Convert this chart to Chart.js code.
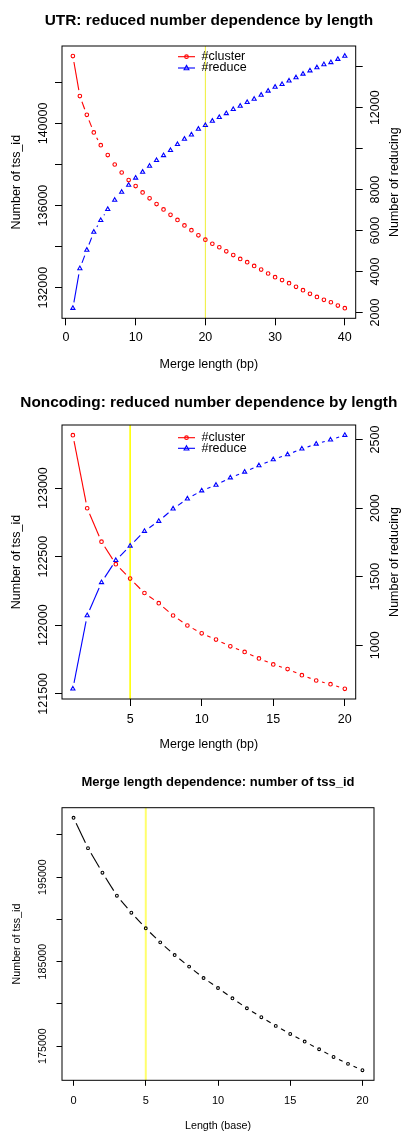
<!DOCTYPE html>
<html>
<head>
<meta charset="utf-8">
<script src="https://cdn.jsdelivr.net/npm/chart.js@4.4.0/dist/chart.umd.min.js"></script>
<style>
  html, body { margin: 0; padding: 0; background: #fff; }
  body { width: 403px; height: 1131px; position: relative; overflow: hidden; }
  canvas { position: absolute; left: 0; }
</style>
</head>
<body>
<canvas id="utrChart" width="403" height="378" style="top:0px"></canvas>
<canvas id="ncChart" width="403" height="378" style="top:378px"></canvas>
<canvas id="mergeChart" width="403" height="375" style="top:756px"></canvas>
<script>
// --- UTR panel ---
const utrLength = [1, 2, 3, 4, 5, 6, 7, 8, 9, 10, 11, 12, 13, 14, 15, 16, 17, 18, 19, 20,
  21, 22, 23, 24, 25, 26, 27, 28, 29, 30, 31, 32, 33, 34, 35, 36, 37, 38, 39, 40];
const utrCluster = [143280, 141330, 140420, 139560, 138940, 138460, 138000, 137610, 137240, 136950,
  136640, 136350, 136070, 135810, 135550, 135300, 135030, 134800, 134550, 134340,
  134140, 133970, 133770, 133590, 133400, 133240, 133060, 132880, 132690, 132510,
  132370, 132220, 132040, 131880, 131700, 131550, 131410, 131290, 131130, 131000];
const utrReduce = [2210, 4150, 5050, 5930, 6500, 7040, 7490, 7880, 8220, 8570,
  8860, 9150, 9430, 9670, 9920, 10210, 10470, 10680, 10960, 11140,
  11350, 11530, 11720, 11920, 12080, 12260, 12420, 12620, 12820, 13010,
  13140, 13310, 13470, 13650, 13810, 13960, 14110, 14210, 14370, 14520];
const utrXTicks = [0, 10, 20, 30, 40];
const utrLeftTicks = [132000, 134000, 136000, 138000, 140000, 142000];
const utrLeftLabels = [132000, 136000, 140000];
const utrRightTicks = [2000, 4000, 6000, 8000, 10000, 12000, 14000];
const utrRightLabels = [2000, 4000, 6000, 8000, 12000];
const utrCutoff = 20;

// --- Noncoding panel ---
const ncLength = [1, 2, 3, 4, 5, 6, 7, 8, 9, 10, 11, 12, 13, 14, 15, 16, 17, 18, 19, 20];
const ncCluster = [123386, 122853, 122609, 122445, 122340, 122235, 122161, 122071, 121998, 121941,
  121895, 121846, 121805, 121758, 121714, 121680, 121636, 121597, 121570, 121536];
const ncReduce = [682, 1217, 1458, 1619, 1724, 1832, 1905, 1995, 2068, 2127,
  2168, 2222, 2264, 2310, 2354, 2390, 2432, 2468, 2498, 2532];
const ncXTicks = [5, 10, 15, 20];
const ncLeftTicks = [121500, 122000, 122500, 123000];
const ncRightTicks = [1000, 1500, 2000, 2500];
const ncCutoff = 5;

// --- Merge length panel ---
const mergeLength = [0, 1, 2, 3, 4, 5, 6, 7, 8, 9, 10, 11, 12, 13, 14, 15, 16, 17, 18, 19, 20];
const mergeCount = [202020, 198430, 195520, 192800, 190790, 188940, 187280, 185780, 184410, 183060,
  181880, 180660, 179480, 178420, 177390, 176440, 175540, 174630, 173720, 172900, 172150];
const mergeXTicks = [0, 5, 10, 15, 20];
const mergeYTicks = [175000, 180000, 185000, 190000, 195000, 200000];
const mergeYLabels = [175000, 185000, 195000];
const mergeCutoff = 5;

const FONT = "'Liberation Sans', Arial, sans-serif";
Chart.defaults.font.family = FONT;
Chart.defaults.color = '#000';

// R style axis range: data range padded by 4% each side
function rRange(vals) {
  const lo = Math.min(...vals), hi = Math.max(...vals);
  const pad = (hi - lo) * 0.04;
  return [lo - pad, hi + pad];
}

function toXY(xs, ys) {
  return xs.map((x, i) => ({ x: x, y: ys[i] }));
}

function vText(ctx, text, x, y, font) {
  ctx.save();
  ctx.translate(x, y);
  ctx.rotate(-Math.PI / 2);
  ctx.font = font;
  ctx.textAlign = 'center';
  ctx.textBaseline = 'middle';
  ctx.fillText(text, 0, 0);
  ctx.restore();
}

function symbol(ctx, style, x, y, r, color) {
  ctx.strokeStyle = color;
  ctx.lineWidth = 1.1;
  ctx.beginPath();
  if (style === 'triangle') {
    ctx.moveTo(x, y - r * 1.1);
    ctx.lineTo(x + r, y + r * 0.7);
    ctx.lineTo(x - r, y + r * 0.7);
    ctx.closePath();
  } else {
    ctx.arc(x, y, r, 0, Math.PI * 2);
  }
  ctx.stroke();
}

// lines between points with a gap round each point (R type = "b"), plus box, texts, legend
const rStyle = {
  id: 'rStyle',
  beforeDatasetsDraw(chart, args, o) {
    const ctx = chart.ctx, a = chart.chartArea;
    ctx.save();
    const xv = chart.scales.x.getPixelForValue(o.cutoff);
    ctx.strokeStyle = o.cutoffColor;
    ctx.lineWidth = o.cutoffWidth;
    ctx.beginPath();
    ctx.moveTo(xv, a.top);
    ctx.lineTo(xv, a.bottom);
    ctx.stroke();

    chart.data.datasets.forEach((ds, i) => {
      const pts = chart.getDatasetMeta(i).data;
      ctx.strokeStyle = ds.borderColor;
      ctx.lineWidth = 1.1;
      for (let k = 0; k < pts.length - 1; k++) {
        const p = pts[k], q = pts[k + 1];
        const dx = q.x - p.x, dy = q.y - p.y, d = Math.hypot(dx, dy);
        if (d <= 2 * o.gap) continue;
        const ux = dx / d, uy = dy / d;
        ctx.beginPath();
        ctx.moveTo(p.x + ux * o.gap, p.y + uy * o.gap);
        ctx.lineTo(q.x - ux * o.gap, q.y - uy * o.gap);
        ctx.stroke();
      }
    });
    ctx.restore();
  },
  afterDraw(chart, args, o) {
    const ctx = chart.ctx, a = chart.chartArea;
    const cx = (a.left + a.right) / 2, cy = (a.top + a.bottom) / 2;
    ctx.save();
    ctx.strokeStyle = '#000';
    ctx.lineWidth = 1;
    ctx.strokeRect(a.left, a.top, a.right - a.left, a.bottom - a.top);

    ctx.fillStyle = '#000';
    o.yLabels.forEach(spec => {
      const sc = chart.scales[spec.scale];
      spec.values.forEach(v => vText(ctx, String(v), spec.x, sc.getPixelForValue(v), o.tickFont));
    });

    ctx.font = o.titleFont;
    ctx.textAlign = 'center';
    ctx.textBaseline = 'alphabetic';
    ctx.fillText(o.title, cx, o.titleY);

    ctx.font = o.labelFont;
    ctx.textBaseline = 'middle';
    ctx.fillText(o.xTitle, cx, o.xTitleY);
    vText(ctx, o.yTitle, o.yTitleX, cy, o.labelFont);
    if (o.y1Title) vText(ctx, o.y1Title, o.y1TitleX, cy, o.labelFont);

    if (o.legend) {
      chart.data.datasets.forEach((ds, i) => {
        const y = o.legend.y[i], x = o.legend.x;
        ctx.strokeStyle = ds.borderColor;
        ctx.lineWidth = 1.1;
        ctx.beginPath();
        ctx.moveTo(x, y);
        ctx.lineTo(x + 17, y);
        ctx.stroke();
        symbol(ctx, ds.pointStyle, x + 8.5, y, ds.pointRadius, ds.borderColor);
        ctx.fillStyle = '#000';
        ctx.font = o.labelFont;
        ctx.textAlign = 'left';
        ctx.textBaseline = 'middle';
        ctx.fillText(ds.label, x + 23.5, y);
      });
    }
    ctx.restore();
  }
};

function xAxis(xs, ticks, height, fontSize, tickLen, pad) {
  const r = rRange(xs);
  return {
    type: 'linear', position: 'bottom', min: r[0], max: r[1],
    afterBuildTicks: s => { s.ticks = ticks.map(v => ({ value: v })); },
    afterFit: s => { s.height = height; },
    ticks: { autoSkip: false, maxRotation: 0, padding: pad, color: '#000', font: { size: fontSize } },
    grid: { drawOnChartArea: false, tickLength: tickLen, tickColor: '#000', lineWidth: 1 },
    border: { display: false }
  };
}

function yAxis(position, ys, ticks, width, tickLen) {
  const r = rRange(ys);
  return {
    type: 'linear', position: position, min: r[0], max: r[1],
    afterBuildTicks: s => { s.ticks = ticks.map(v => ({ value: v })); },
    afterFit: s => { s.width = width; },
    ticks: { display: false },
    grid: { drawOnChartArea: false, tickLength: tickLen, tickColor: '#000', lineWidth: 1 },
    border: { display: false }
  };
}

function series(label, xs, ys, color, style, radius, axis) {
  return {
    label: label,
    data: toXY(xs, ys),
    yAxisID: axis,
    showLine: false,
    borderColor: color,
    pointStyle: style,
    pointRadius: radius,
    pointHoverRadius: radius,
    pointBorderWidth: 1.1,
    pointBorderColor: color,
    pointBackgroundColor: 'rgba(0,0,0,0)'
  };
}

function baseOptions(padding, scales, deco) {
  return {
    responsive: false,
    animation: false,
    events: [],
    layout: { padding: padding },
    scales: scales,
    plugins: { legend: { display: false }, tooltip: { enabled: false }, rStyle: deco }
  };
}

new Chart(document.getElementById('utrChart'), {
  type: 'scatter',
  data: {
    datasets: [
      series('#cluster', utrLength, utrCluster, '#ff0000', 'circle', 1.8, 'y'),
      series('#reduce', utrLength, utrReduce, '#0000ff', 'triangle', 2.4, 'y1')
    ]
  },
  options: baseOptions({ top: 46, left: 0, right: 0, bottom: 0 }, {
    x: xAxis(utrLength, utrXTicks, 59.7, 12.5, 7, 5),
    y: yAxis('left', utrCluster, utrLeftTicks, 62, 7),
    y1: yAxis('right', utrReduce, utrRightTicks, 47.3, 7)
  }, {
    cutoff: utrCutoff, cutoffColor: 'rgba(235,235,0,0.8)', cutoffWidth: 1, gap: 6,
    tickFont: '12.5px ' + FONT, labelFont: '12.5px ' + FONT, titleFont: 'bold 15.4px ' + FONT,
    title: 'UTR: reduced number dependence by length', titleY: 25.3,
    xTitle: 'Merge length (bp)', xTitleY: 365,
    yTitle: 'Number of tss_id', yTitleX: 16.7,
    y1Title: 'Number of reducing', y1TitleX: 395,
    yLabels: [{ scale: 'y', values: utrLeftLabels, x: 43.3 }, { scale: 'y1', values: utrRightLabels, x: 375.7 }],
    legend: { x: 178, y: [56.7, 68] }
  }),
  plugins: [rStyle]
});

new Chart(document.getElementById('ncChart'), {
  type: 'scatter',
  data: {
    datasets: [
      series('#cluster', ncLength, ncCluster, '#ff0000', 'circle', 1.8, 'y'),
      series('#reduce', ncLength, ncReduce, '#0000ff', 'triangle', 2.4, 'y1')
    ]
  },
  options: baseOptions({ top: 47, left: 0, right: 0, bottom: 0 }, {
    x: xAxis(ncLength, ncXTicks, 57, 12.5, 7, 6),
    y: yAxis('left', ncCluster, ncLeftTicks, 62, 7),
    y1: yAxis('right', ncReduce, ncRightTicks, 47.3, 7)
  }, {
    cutoff: ncCutoff, cutoffColor: '#ffff00', cutoffWidth: 1.6, gap: 6,
    tickFont: '12.5px ' + FONT, labelFont: '12.5px ' + FONT, titleFont: 'bold 15.4px ' + FONT,
    title: 'Noncoding: reduced number dependence by length', titleY: 28.7,
    xTitle: 'Merge length (bp)', xTitleY: 366.3,
    yTitle: 'Number of tss_id', yTitleX: 16.7,
    y1Title: 'Number of reducing', y1TitleX: 395,
    yLabels: [{ scale: 'y', values: ncLeftTicks, x: 43.3 }, { scale: 'y1', values: ncRightTicks, x: 375.7 }],
    legend: { x: 178, y: [59.7, 70.3] }
  }),
  plugins: [rStyle]
});

new Chart(document.getElementById('mergeChart'), {
  type: 'scatter',
  data: {
    datasets: [
      series('tss_id', mergeLength, mergeCount, '#000000', 'circle', 1.4, 'y')
    ]
  },
  options: baseOptions({ top: 51.7, left: 0, right: 29, bottom: 0 }, {
    x: xAxis(mergeLength, mergeXTicks, 50.7, 11, 5.5, 8.5),
    y: yAxis('left', mergeCount, mergeYTicks, 62, 5.5)
  }, {
    cutoff: mergeCutoff, cutoffColor: 'rgba(255,255,60,0.75)', cutoffWidth: 2, gap: 6,
    tickFont: '10.7px ' + FONT, labelFont: '10.7px ' + FONT, titleFont: 'bold 13px ' + FONT,
    title: 'Merge length dependence: number of tss_id', titleY: 30,
    xTitle: 'Length (base)', xTitleY: 369.7,
    yTitle: 'Number of tss_id', yTitleX: 16.7,
    yLabels: [{ scale: 'y', values: mergeYLabels, x: 43 }]
  }),
  plugins: [rStyle]
});
</script>
</body>
</html>
